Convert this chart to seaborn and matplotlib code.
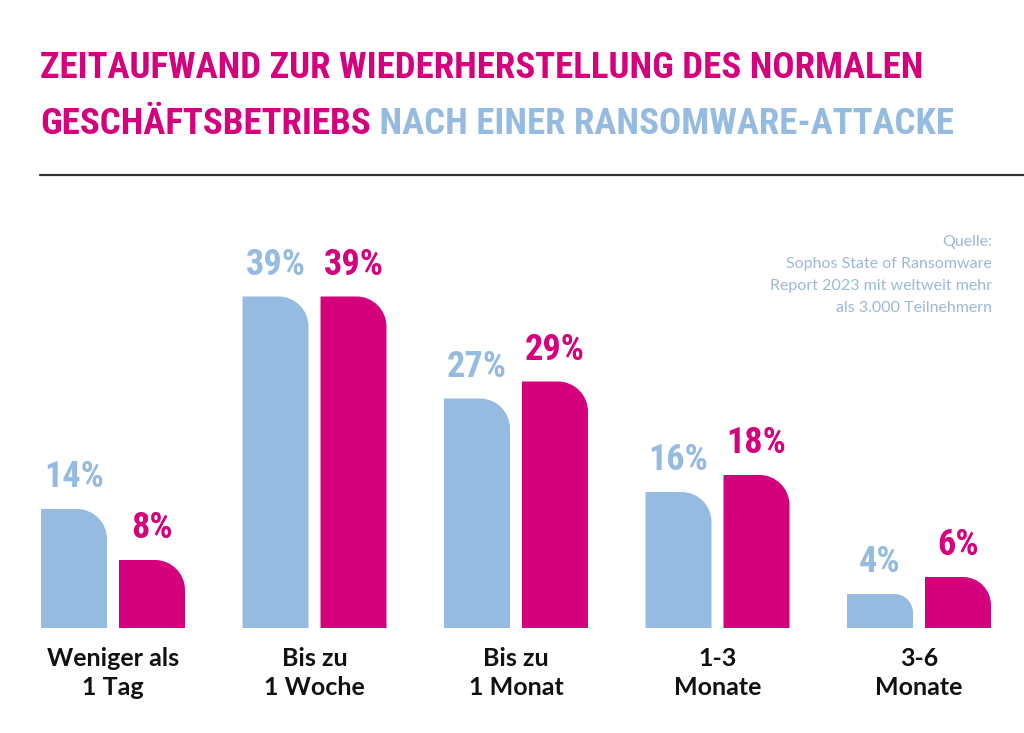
import numpy as np
import pandas as pd
import matplotlib
matplotlib.use("Agg")
import matplotlib.pyplot as plt
import seaborn as sns
from matplotlib.path import Path
from matplotlib.patches import PathPatch
from matplotlib.lines import Line2D

# data
categories = ["Weniger als\n1 Tag", "Bis zu\n1 Woche", "Bis zu\n1 Monat", "1-3\nMonate", "3-6\nMonate"]
series = ["A", "B"]
values_a = [14, 39, 27, 16, 4]
values_b = [8, 39, 29, 18, 6]

title_line1 = "ZEITAUFWAND ZUR WIEDERHERSTELLUNG DES NORMALEN"
title_line2a = "GESCHÄFTSBETRIEBS"
title_line2b = " NACH EINER RANSOMWARE-ATTACKE"
source_text = "Quelle:\nSophos State of Ransomware\nReport 2023 mit weltweit mehr\nals 3.000 Teilnehmern"

BLUE = "#95bbe0"
PINK = "#d5007b"
NARROW = ["Roboto Condensed", "DejaVu Sans Condensed", "Liberation Sans Narrow", "DejaVu Sans"]
LABEL_FONT = ["Lato", "DejaVu Sans"]

df = pd.DataFrame({
    "cat": categories * 2,
    "series": [series[0]] * len(categories) + [series[1]] * len(categories),
    "value": values_a + values_b,
})

sns.set_theme(style="white")
fig = plt.figure(figsize=(10.24, 7.33), dpi=100)
W, H = 1024, 733

# axes placed so that baseline sits at y=628px, 8.5px per percent
x0_px, x1_px = 12.25, 1019.75
base_px, top_px = 628, 628 - 50 * 8.5
ax = fig.add_axes([x0_px / W, 1 - base_px / H, (x1_px - x0_px) / W, (base_px - top_px) / H])

sns.barplot(data=df, x="cat", y="value", hue="series", palette=[BLUE, PINK],
            width=0.774, gap=0.154, legend=False, ax=ax, errorbar=None)
ax.set_xlim(-0.5, 4.5)
ax.set_ylim(0, 50)
sns.despine(ax=ax, left=True, bottom=True)
ax.set_yticks([])
ax.set_xlabel("")
ax.set_ylabel("")
ax.tick_params(axis="x", length=0, pad=14)
for lbl in ax.get_xticklabels():
    lbl.set_fontfamily(LABEL_FONT)
    lbl.set_fontweight("bold")
    lbl.set_fontsize(18)
    lbl.set_color("#111111")
    lbl.set_linespacing(1.3)

fig.canvas.draw()
renderer = fig.canvas.get_renderer()

# size the percent labels so "39%" is about 60px wide
probe = fig.text(0, 0, "39%", fontsize=30, fontweight="bold", family=NARROW)
pct_size = min(34, 30 * 60 / probe.get_window_extent(renderer).width)
probe.remove()

# replace flat bars with bars that have a rounded top-right corner
px_per_x = (x1_px - x0_px) / 5.0
px_per_y = 8.5
k = 0.5523
for cont, color in zip(ax.containers, [BLUE, PINK]):
    for bar in cont:
        x = bar.get_x()
        w = bar.get_width()
        h = bar.get_height()
        r_px = min(30, 0.55 * h * px_per_y)
        rx = r_px / px_per_x
        ry = r_px / px_per_y
        verts = [
            (x, 0), (x, h), (x + w - rx, h),
            (x + w - rx + k * rx, h), (x + w, h - ry + k * ry), (x + w, h - ry),
            (x + w, 0), (x, 0),
        ]
        codes = [Path.MOVETO, Path.LINETO, Path.LINETO,
                 Path.CURVE4, Path.CURVE4, Path.CURVE4,
                 Path.LINETO, Path.CLOSEPOLY]
        ax.add_patch(PathPatch(Path(verts, codes), facecolor=color, edgecolor="none"))
        bar.set_visible(False)
    ax.bar_label(cont, labels=[f"{v:.0f}%" for v in cont.datavalues], padding=10,
                 color=color, fontsize=pct_size, fontweight="bold", family=NARROW)

# title, fitted so the second line ends near x=948px
t1 = fig.text(40 / W, 1 - 78 / H, title_line1, color=PINK, fontsize=40,
              fontweight="bold", family=NARROW, va="baseline", ha="left")
probe = fig.text(0, 0, title_line2a + title_line2b, fontsize=40,
                 fontweight="bold", family=NARROW)
w2 = probe.get_window_extent(renderer).width
probe.remove()
size = 40 * 912 / w2
t1.set_fontsize(size)
t2 = fig.text(40 / W, 1 - 134 / H, title_line2a, color=PINK, fontsize=size,
              fontweight="bold", family=NARROW, va="baseline", ha="left")
fig.canvas.draw()
ext = t2.get_window_extent(renderer)
fig.text(ext.x1 / W, 1 - 134 / H, title_line2b, color=BLUE, fontsize=size,
         fontweight="bold", family=NARROW, va="baseline", ha="left")

fig.add_artist(Line2D([40 / W, 1.0], [1 - 175 / H, 1 - 175 / H], color="#333333", lw=1.6))

fig.text(992 / W, 1 - 235 / H, source_text, color="#9db8d8", fontsize=11.5,
         ha="right", va="top", linespacing=1.72, family=LABEL_FONT)

fig.savefig("out.png", dpi=100, facecolor="white")
